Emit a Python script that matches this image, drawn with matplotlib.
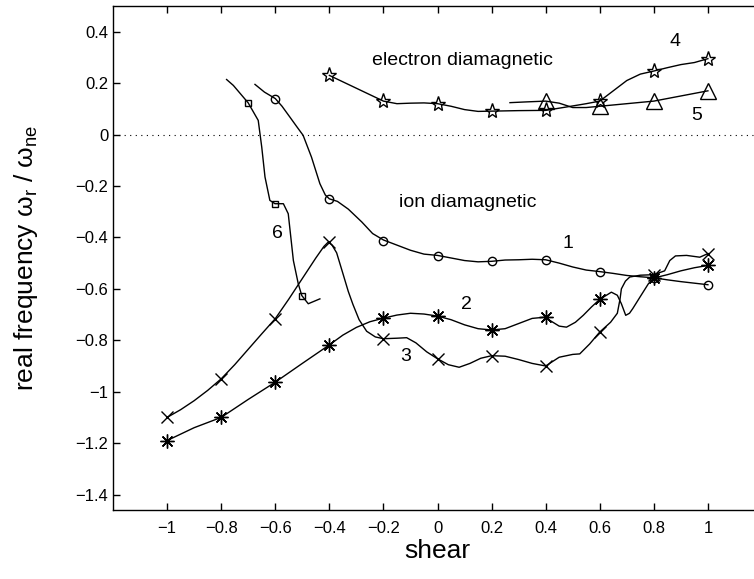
import numpy as np
import matplotlib
matplotlib.use('Agg')
import matplotlib.pyplot as plt

plt.rcParams['font.family'] = ['Liberation Sans', 'DejaVu Sans']
plt.rcParams['mathtext.fontset'] = 'custom'
plt.rcParams['mathtext.rm'] = 'Liberation Sans'
plt.rcParams['mathtext.it'] = 'Liberation Sans'
plt.rcParams['axes.unicode_minus'] = True

# marker positions (shear, real frequency)
shear_all = [-1.0, -0.8, -0.6, -0.4, -0.2, 0.0, 0.2, 0.4, 0.6, 0.8, 1.0]

c1_x = [-0.6, -0.4, -0.2, 0.0, 0.2, 0.4, 0.6, 0.8, 1.0]
c1_y = [0.14, -0.25, -0.414, -0.474, -0.493, -0.487, -0.533, -0.556, -0.584]
c2_y = [-1.19, -1.10, -0.963, -0.818, -0.714, -0.706, -0.76, -0.71, -0.641, -0.558, -0.509]
c3_y = [-1.10, -0.95, -0.716, -0.418, -0.794, -0.872, -0.86, -0.90, -0.768, -0.545, -0.463]
c4_x = [-0.4, -0.2, 0.0, 0.2, 0.4, 0.6, 0.8, 1.0]
c4_y = [0.23, 0.13, 0.12, 0.091, 0.094, 0.13, 0.247, 0.295]
c5_x = [0.4, 0.6, 0.8, 1.0]
c5_y = [0.13, 0.11, 0.13, 0.17]
c6_x = [-0.7, -0.6, -0.5]
c6_y = [0.123, -0.269, -0.626]

# traced curve paths
p1 = [(-0.675, 0.195), (-0.64, 0.165), (-0.6, 0.14), (-0.575, 0.11), (-0.546, 0.068),
      (-0.52, 0.03), (-0.497, -0.003), (-0.466, -0.088), (-0.435, -0.191), (-0.415, -0.235),
      (-0.4, -0.25), (-0.37, -0.26), (-0.33, -0.29), (-0.28, -0.34), (-0.24, -0.385),
      (-0.2, -0.41), (-0.15, -0.43), (-0.1, -0.45), (-0.05, -0.465), (0.0, -0.47),
      (0.05, -0.48), (0.1, -0.49), (0.15, -0.495), (0.2, -0.493), (0.25, -0.488),
      (0.3, -0.487), (0.35, -0.485), (0.4, -0.487), (0.45, -0.5), (0.5, -0.515),
      (0.55, -0.527), (0.6, -0.533), (0.65, -0.54), (0.7, -0.548), (0.75, -0.553),
      (0.8, -0.557), (0.85, -0.565), (0.9, -0.572), (0.95, -0.578), (1.0, -0.584)]
p2 = [(-1.0, -1.19), (-0.95, -1.165), (-0.9, -1.14), (-0.85, -1.12), (-0.8, -1.10),
      (-0.7, -1.03), (-0.6, -0.963), (-0.5, -0.89), (-0.4, -0.818), (-0.35, -0.78),
      (-0.3, -0.75), (-0.25, -0.728), (-0.2, -0.714), (-0.15, -0.702), (-0.1, -0.695),
      (-0.05, -0.698), (0.0, -0.706), (0.05, -0.72), (0.1, -0.74), (0.15, -0.755),
      (0.2, -0.76), (0.25, -0.755), (0.3, -0.735), (0.35, -0.715), (0.4, -0.71),
      (0.416, -0.723), (0.45, -0.745), (0.477, -0.749), (0.51, -0.73), (0.539, -0.703),
      (0.57, -0.67), (0.6, -0.641), (0.643, -0.613), (0.665, -0.625), (0.68, -0.658),
      (0.696, -0.703), (0.71, -0.695), (0.722, -0.677), (0.75, -0.63), (0.78, -0.58),
      (0.8, -0.558), (0.85, -0.545), (0.9, -0.53), (0.95, -0.518), (1.0, -0.509)]
p3 = [(-1.0, -1.10), (-0.95, -1.07), (-0.9, -1.035), (-0.85, -0.995), (-0.8, -0.95),
      (-0.75, -0.895), (-0.7, -0.835), (-0.65, -0.775), (-0.6, -0.716), (-0.55, -0.64),
      (-0.5, -0.56), (-0.45, -0.48), (-0.42, -0.435), (-0.404, -0.418), (-0.39, -0.43),
      (-0.373, -0.46), (-0.35, -0.54), (-0.33, -0.61), (-0.313, -0.66), (-0.29, -0.72),
      (-0.262, -0.765), (-0.23, -0.787), (-0.2, -0.794), (-0.15, -0.792), (-0.114, -0.79),
      (-0.08, -0.81), (-0.04, -0.845), (0.0, -0.872), (0.04, -0.895), (0.08, -0.905),
      (0.12, -0.89), (0.16, -0.87), (0.2, -0.86), (0.25, -0.862), (0.3, -0.875),
      (0.35, -0.89), (0.4, -0.90), (0.45, -0.866), (0.5, -0.855), (0.526, -0.853),
      (0.563, -0.814), (0.6, -0.768), (0.64, -0.73), (0.665, -0.695), (0.675, -0.64),
      (0.68, -0.6), (0.695, -0.57), (0.711, -0.554), (0.75, -0.547), (0.8, -0.545),
      (0.84, -0.53), (0.859, -0.49), (0.88, -0.472), (0.921, -0.47), (0.97, -0.477),
      (1.0, -0.463)]
p4 = [(-0.4, 0.23), (-0.3, 0.18), (-0.2, 0.13), (-0.15, 0.12), (-0.1, 0.122),
      (-0.05, 0.123), (0.0, 0.12), (0.05, 0.11), (0.1, 0.097), (0.15, 0.09),
      (0.2, 0.091), (0.3, 0.093), (0.4, 0.094), (0.476, 0.107), (0.55, 0.12),
      (0.6, 0.13), (0.65, 0.17), (0.7, 0.21), (0.75, 0.235), (0.8, 0.247),
      (0.85, 0.26), (0.9, 0.272), (0.95, 0.28), (1.0, 0.295)]
p5 = [(0.268, 0.124), (0.33, 0.127), (0.4, 0.13), (0.45, 0.122), (0.5, 0.105),
      (0.55, 0.105), (0.6, 0.11), (0.7, 0.12), (0.8, 0.13), (0.9, 0.15), (1.0, 0.17)]
p6 = [(-0.78, 0.214), (-0.755, 0.191), (-0.7, 0.123), (-0.663, 0.055), (-0.65, -0.049),
      (-0.638, -0.165), (-0.62, -0.256), (-0.601, -0.269), (-0.57, -0.269), (-0.552, -0.308),
      (-0.533, -0.49), (-0.515, -0.58), (-0.502, -0.626), (-0.478, -0.658), (-0.435, -0.639)]

fig = plt.figure(figsize=(7.54, 5.79), dpi=100)
ax = fig.add_axes([0.1499, 0.1192, 0.8607, 0.8705])

line_kw = dict(color='black', lw=1.0)
mk_kw = dict(ls='none', color='black', mec='black', mew=1.0)

for path in [p1, p2, p3, p4, p5, p6]:
    xs, ys = zip(*path)
    ax.plot(xs, ys, **line_kw)

ax.plot(c1_x, c1_y, marker='o', ms=6, mfc='none', **mk_kw)
ax.plot(shear_all, c2_y, marker=(8, 2, 0), ms=10, **mk_kw)
ax.plot(shear_all, c3_y, marker='x', ms=9, **mk_kw)
ax.plot(c4_x, c4_y, marker='*', ms=11, mfc='none', **mk_kw)
ax.plot(c5_x, c5_y, marker='^', ms=11, mfc='none', **mk_kw)
ax.plot(c6_x, c6_y, marker='s', ms=5, mfc='none', **mk_kw)

ax.axhline(0, color='black', lw=0.8, ls=(0, (1, 4)))

ax.text(0.094, 0.289, 'electron diamagnetic', fontsize=14, ha='center', va='center')
ax.text(0.113, -0.263, 'ion diamagnetic', fontsize=14, ha='center', va='center')
for lab, lx, ly in [('1', 0.483, -0.425), ('2', 0.107, -0.661), ('3', -0.117, -0.863),
                    ('4', 0.878, 0.36), ('5', 0.957, 0.075), ('6', -0.591, -0.383)]:
    ax.text(lx, ly, lab, fontsize=14, ha='center', va='center')

ax.set_xlim(-1.2, 1.2)
ax.set_ylim(-1.46, 0.5)
ax.set_xticks([-1, -0.8, -0.6, -0.4, -0.2, 0, 0.2, 0.4, 0.6, 0.8, 1])
ax.set_xticklabels(['\u22121', '\u22120.8', '\u22120.6', '\u22120.4', '\u22120.2', '0',
                    '0.2', '0.4', '0.6', '0.8', '1'])
ax.set_yticks([0.4, 0.2, 0, -0.2, -0.4, -0.6, -0.8, -1, -1.2, -1.4])
ax.set_yticklabels(['0.4', '0.2', '0', '\u22120.2', '\u22120.4', '\u22120.6', '\u22120.8',
                    '\u22121', '\u22121.2', '\u22121.4'])
ax.tick_params(direction='in', top=True, right=True, length=5, width=1.0, labelsize=12)
ax.tick_params(axis='x', pad=8)
for sp in ax.spines.values():
    sp.set_linewidth(1.0)

ax.set_xlabel('shear', fontsize=19, labelpad=2)
ax.set_ylabel(r'real frequency $\omega_r$ / $\omega_{ne}$', fontsize=19)
ax.yaxis.set_label_coords(-0.112, 0.5)

fig.savefig('out.png', dpi=100)
